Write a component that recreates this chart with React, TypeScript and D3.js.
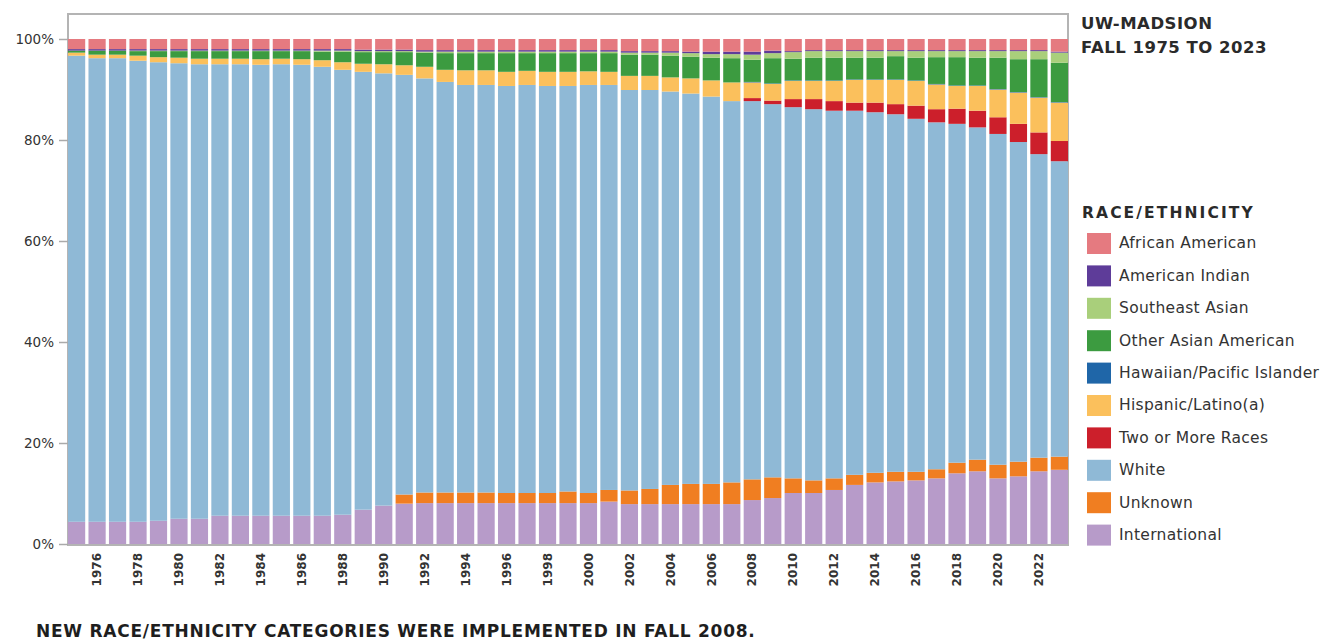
import React, { useRef, useEffect } from "react";
import * as d3 from "d3";

const years = d3.range(1975, 2024).map(String);

const categories = [
  "African American",
  "American Indian",
  "Southeast Asian",
  "Other Asian American",
  "Hawaiian/Pacific Islander",
  "Hispanic/Latino(a)",
  "Two or More Races",
  "White",
  "Unknown",
  "International",
];

const colors = [
  "#e57a80",
  "#5e3c99",
  "#a9cf7b",
  "#3c9b40",
  "#1f66a8",
  "#fbc05c",
  "#cc1f2b",
  "#8fb9d6",
  "#f07e21",
  "#b79bc9",
];

// percent of enrollment, 1975..2023
const africanAmerican = [2.0, 2.0, 2.0, 2.0, 2.0, 2.0, 2.0, 2.0, 2.0, 2.0, 2.0, 2.0, 2.0, 2.0, 2.1, 2.1, 2.1, 2.2, 2.2, 2.2, 2.2, 2.2, 2.2, 2.2, 2.2, 2.2, 2.2, 2.4, 2.4, 2.4, 2.5, 2.5, 2.5, 2.5, 2.3, 2.4, 2.2, 2.2, 2.2, 2.2, 2.2, 2.2, 2.2, 2.2, 2.2, 2.2, 2.2, 2.2, 2.5];
const americanIndian = [0.3, 0.3, 0.3, 0.3, 0.3, 0.3, 0.3, 0.3, 0.3, 0.3, 0.3, 0.3, 0.3, 0.3, 0.3, 0.3, 0.3, 0.3, 0.3, 0.3, 0.3, 0.3, 0.3, 0.3, 0.3, 0.3, 0.3, 0.3, 0.3, 0.3, 0.3, 0.5, 0.5, 0.6, 0.5, 0.2, 0.2, 0.2, 0.2, 0.2, 0.2, 0.2, 0.2, 0.2, 0.2, 0.2, 0.2, 0.2, 0.2];
const southeastAsian = [0.0, 0.0, 0.0, 0.1, 0.1, 0.1, 0.1, 0.1, 0.1, 0.1, 0.1, 0.1, 0.2, 0.2, 0.2, 0.2, 0.2, 0.2, 0.3, 0.3, 0.3, 0.3, 0.3, 0.3, 0.3, 0.3, 0.3, 0.4, 0.4, 0.6, 0.7, 0.7, 0.8, 1.0, 1.0, 1.3, 1.3, 1.3, 1.3, 1.3, 1.0, 1.3, 1.2, 1.2, 1.3, 1.3, 1.6, 1.6, 2.0];
const otherAsian = [0.4, 0.8, 0.8, 0.9, 1.2, 1.3, 1.5, 1.5, 1.5, 1.6, 1.5, 1.6, 1.7, 2.1, 2.3, 2.4, 2.6, 2.8, 3.3, 3.4, 3.4, 3.7, 3.5, 3.7, 3.7, 3.6, 3.7, 4.2, 4.2, 4.3, 4.3, 4.5, 4.8, 4.4, 5.0, 4.3, 4.5, 4.5, 4.3, 4.3, 4.6, 4.5, 5.3, 5.6, 5.5, 6.2, 6.5, 7.5, 7.8];
const hawaiian = [0, 0, 0, 0, 0, 0, 0, 0, 0, 0, 0, 0, 0, 0, 0, 0, 0, 0, 0, 0, 0, 0, 0, 0, 0, 0, 0, 0, 0, 0, 0, 0, 0, 0.1, 0.1, 0.1, 0.1, 0.1, 0.1, 0.1, 0.1, 0.1, 0.1, 0.1, 0.1, 0.1, 0.1, 0.1, 0.1];
const hispanic = [0.6, 0.7, 0.7, 1.0, 1.0, 1.1, 1.1, 1.1, 1.1, 1.1, 1.1, 1.1, 1.3, 1.5, 1.6, 1.8, 1.9, 2.3, 2.4, 2.9, 2.9, 2.8, 2.8, 2.8, 2.8, 2.7, 2.6, 2.8, 2.8, 2.8, 3.0, 3.2, 3.7, 3.1, 3.3, 3.6, 3.6, 4.0, 4.5, 4.5, 4.8, 4.9, 4.9, 4.5, 4.9, 5.5, 6.2, 6.9, 7.6];
const twoOrMore = [0, 0, 0, 0, 0, 0, 0, 0, 0, 0, 0, 0, 0, 0, 0, 0, 0, 0, 0, 0, 0, 0, 0, 0, 0, 0, 0, 0, 0, 0, 0, 0, 0, 0.6, 0.7, 1.6, 2.0, 1.9, 1.6, 1.9, 2.0, 2.6, 2.6, 3.0, 3.3, 3.3, 3.6, 4.3, 4.0];
const white = [92.3, 91.8, 91.8, 91.3, 90.8, 90.2, 90.0, 89.4, 89.4, 89.3, 89.4, 89.3, 88.9, 88.1, 86.7, 85.6, 83.1, 82.0, 81.3, 80.7, 80.7, 80.6, 80.8, 80.6, 80.3, 80.8, 80.2, 79.3, 79.0, 77.9, 77.3, 76.7, 75.5, 74.9, 73.9, 73.5, 73.5, 72.8, 72.1, 71.4, 70.8, 69.9, 68.7, 67.1, 65.8, 65.5, 63.3, 60.1, 58.5];
const unknown = [0, 0, 0, 0, 0, 0, 0, 0, 0, 0, 0, 0, 0, 0, 0, 0, 1.8, 2.1, 2.1, 2.1, 2.1, 2.0, 2.0, 2.0, 2.3, 2.0, 2.3, 2.7, 3.0, 3.8, 4.0, 4.0, 4.3, 4.1, 4.1, 2.9, 2.5, 2.3, 2.0, 1.9, 1.9, 1.7, 1.8, 2.1, 2.3, 2.7, 2.9, 2.7, 2.6];
const international = [4.4, 4.4, 4.4, 4.4, 4.6, 5.0, 5.0, 5.6, 5.6, 5.6, 5.6, 5.6, 5.6, 5.8, 6.8, 7.6, 8.0, 8.1, 8.1, 8.1, 8.1, 8.1, 8.1, 8.1, 8.1, 8.1, 8.4, 7.9, 7.9, 7.9, 7.9, 7.9, 7.9, 8.7, 9.1, 10.1, 10.1, 10.7, 11.7, 12.2, 12.4, 12.6, 13.0, 14.0, 14.4, 13.0, 13.4, 14.4, 14.7];

const series = [
  africanAmerican,
  americanIndian,
  southeastAsian,
  otherAsian,
  hawaiian,
  hispanic,
  twoOrMore,
  white,
  unknown,
  international,
];

const yTicks = [0, 20, 40, 60, 80, 100];
const titleLines = ["UW-MADSION", "FALL 1975 TO 2023"];
const legendTitle = "RACE/ETHNICITY";
const footNote = "NEW RACE/ETHNICITY CATEGORIES WERE IMPLEMENTED IN FALL 2008.";

export default function App() {
  const svgRef = useRef<SVGSVGElement | null>(null);

  useEffect(() => {
    const svg = svgRef.current;
    if (!svg) return;
    const W = 1334;
    const M = { l: 68, r: 266, t: 14, b: 98 };
    const sel = d3.select(svg);
    sel.selectAll("*").remove();

    const rows = years.map((yr, i) => {
      const row: any = { year: yr };
      categories.forEach((c, k) => (row[c] = series[k][i]));
      return row;
    });

    // stack bottom-up: International first, African American on top
    const stackKeys = categories.slice().reverse();
    const stacked = d3.stack<any>().keys(stackKeys)(rows);
    const color = d3.scaleOrdinal<string, string>().domain(categories).range(colors);

    const x = d3
      .scaleBand()
      .domain(years)
      .range([M.l, W - M.r])
      .paddingInner(0.16)
      .paddingOuter(0);
    const y = d3.scaleLinear().domain([0, 100]).range([544, 39]);

    // frame
    sel
      .append("rect")
      .attr("x", M.l)
      .attr("y", M.t)
      .attr("width", W - M.r - M.l)
      .attr("height", 545 - M.t)
      .attr("fill", "#fff")
      .attr("stroke", "#b4b4b4")
      .attr("stroke-width", 2);

    const g = sel.append("g");
    g.selectAll("g.layer")
      .data(stacked)
      .enter()
      .append("g")
      .attr("class", "layer")
      .attr("fill", (d) => color(d.key))
      .selectAll("rect")
      .data((d) => d)
      .enter()
      .append("rect")
      .attr("x", (d: any) => x(d.data.year) as number)
      .attr("width", x.bandwidth())
      .attr("y", (d) => y(d[1]))
      .attr("height", (d) => Math.max(0, y(d[0]) - y(d[1])));

    // y axis
    const ya = sel
      .append("g")
      .attr("transform", `translate(${M.l},0)`)
      .call(
        d3
          .axisLeft(y)
          .tickValues(yTicks)
          .tickSize(9)
          .tickPadding(5)
          .tickFormat((d) => `${d}%`)
      );
    ya.select(".domain").remove();
    ya.selectAll("line").attr("stroke", "#aaa").attr("stroke-width", 1.5);
    ya.selectAll("text")
      .attr("fill", "#333")
      .attr("font-family", "DejaVu Sans")
      .attr("font-size", 13.5);

    // x axis labels, every other year
    const xa = sel
      .append("g")
      .attr("transform", `translate(0,546)`)
      .call(
        d3
          .axisBottom(x)
          .tickValues(years.filter((yr) => +yr % 2 === 0))
          .tickSize(0)
          .tickPadding(0)
      );
    xa.select(".domain").remove();
    xa.selectAll("text")
      .attr("transform", "rotate(-90)")
      .attr("text-anchor", "end")
      .attr("dy", "0.35em")
      .attr("x", -7)
      .attr("y", 0)
      .attr("fill", "#333")
      .attr("font-family", "DejaVu Sans")
      .attr("font-weight", "bold")
      .attr("font-size", 12);

    // title
    titleLines.forEach((t, i) =>
      sel
        .append("text")
        .attr("x", 1081)
        .attr("y", 29 + i * 24)
        .attr("fill", "#2a2a2a")
        .attr("font-family", "DejaVu Sans")
        .attr("font-weight", "bold")
        .attr("font-size", 16.5)
        .attr("letter-spacing", 0.5)
        .text(t)
    );

    // legend
    sel
      .append("text")
      .attr("x", 1082)
      .attr("y", 218)
      .attr("fill", "#2a2a2a")
      .attr("font-family", "DejaVu Sans")
      .attr("font-weight", "bold")
      .attr("font-size", 15.5)
      .attr("letter-spacing", 2.1)
      .text(legendTitle);

    const leg = sel
      .append("g")
      .selectAll("g")
      .data(categories)
      .enter()
      .append("g")
      .attr("transform", (_, i) => `translate(1087,${243 + i * 32.4})`);
    leg
      .append("rect")
      .attr("x", 0)
      .attr("y", -10)
      .attr("width", 24)
      .attr("height", 21)
      .attr("fill", (d) => color(d));
    leg
      .append("text")
      .attr("x", 32)
      .attr("y", 0)
      .attr("dy", "0.35em")
      .attr("fill", "#333")
      .attr("font-family", "DejaVu Sans")
      .attr("font-size", 15.5)
      .attr("letter-spacing", 0.3)
      .text((d) => d);

    // footnote
    sel
      .append("text")
      .attr("x", 36)
      .attr("y", 637)
      .attr("fill", "#1e1e1e")
      .attr("font-family", "DejaVu Sans")
      .attr("font-weight", "bold")
      .attr("font-size", 17)
      .attr("letter-spacing", 0.75)
      .text(footNote);
  }, []);

  return (
    <svg
      ref={svgRef}
      width={1334}
      height={642}
      style={{ position: "absolute", left: 0, top: 0, background: "#fff" }}
    />
  );
}
